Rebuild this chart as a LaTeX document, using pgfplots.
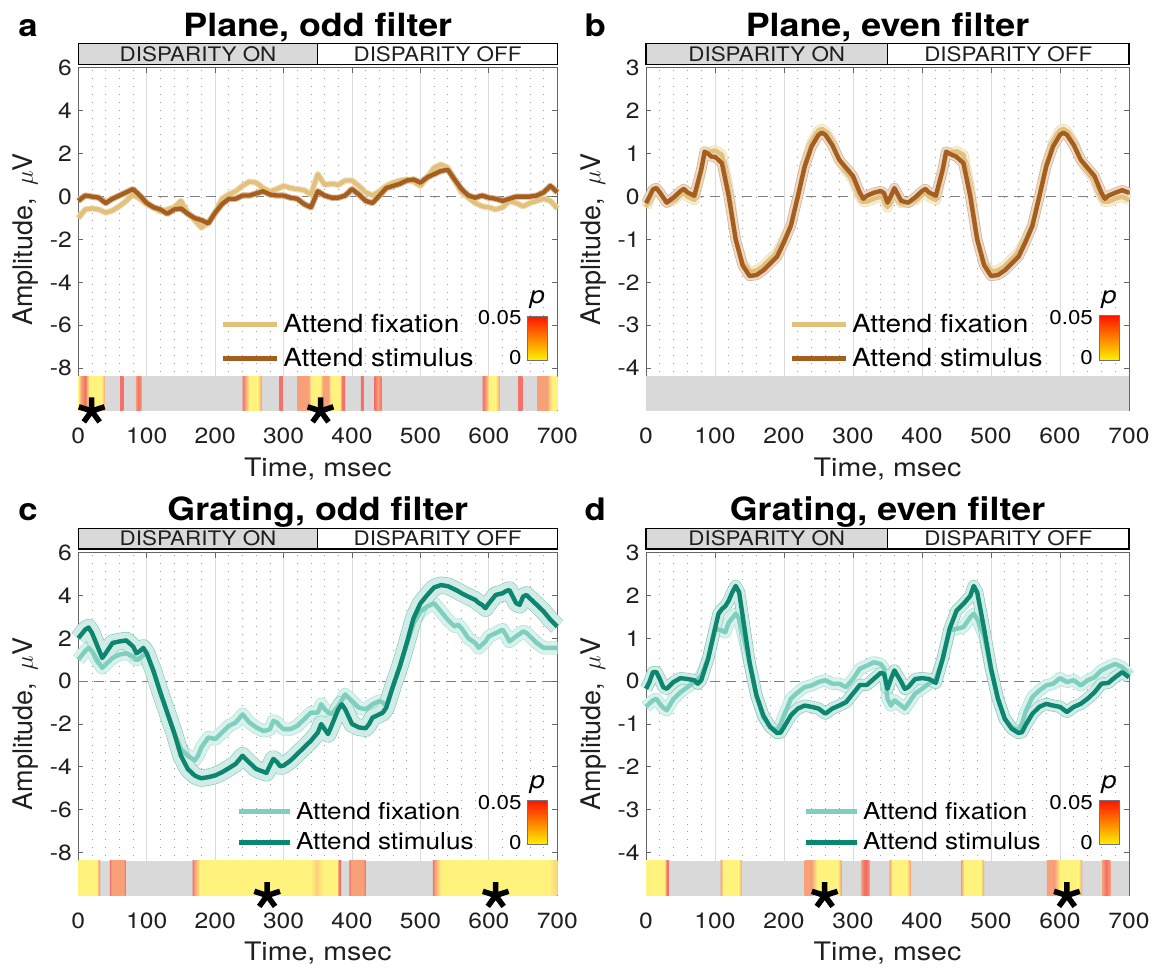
\documentclass[border=0pt]{standalone}
\usepackage{fontspec}
\setmainfont{TeX Gyre Heros}[FakeStretch=1.12]
\newfontfamily\plainheros{TeX Gyre Heros}
\usepackage{pgfplots}
\usepackage{pgfplotstable}
\pgfplotsset{compat=1.18}

\definecolor{fixP}{RGB}{226,193,125}
\definecolor{stimP}{RGB}{163,94,32}
\definecolor{fixPfill}{RGB}{247,236,212}
\definecolor{fixPedge}{RGB}{238,219,178}
\definecolor{stimPfill}{RGB}{236,218,200}
\definecolor{stimPedge}{RGB}{212,172,136}
\definecolor{fixG}{RGB}{128,206,190}
\definecolor{stimG}{RGB}{13,133,111}
\definecolor{fixGfill}{RGB}{218,242,237}
\definecolor{fixGedge}{RGB}{168,224,212}
\definecolor{stimGfill}{RGB}{208,236,230}
\definecolor{stimGedge}{RGB}{132,198,184}
\definecolor{stripgray}{RGB}{217,217,217}
\definecolor{sigR}{RGB}{244,112,104}
\definecolor{sigO}{RGB}{248,160,120}
\definecolor{sigY}{RGB}{255,243,125}
\colorlet{sigYO}{sigY!60!sigO}
\definecolor{cbR}{RGB}{255,20,0}
\definecolor{cbY}{RGB}{255,240,0}

\newcommand{\sg}[4]{\addplot[forget plot, draw=none, left color=#3, right color=#4] coordinates {(#1,\yb) (#2,\yb) (#2,\yt) (#1,\yt)} -- cycle;}

\pgfplotstableread{
x fix stim
0 -1.0 -0.2
10 -0.6 0.05
20 -0.55 0.0
30 -0.6 -0.05
40 -0.75 -0.3
50 -0.65 -0.1
60 -0.45 0.05
70 -0.2 0.2
80 0.1 0.35
90 -0.1 0.05
100 -0.35 -0.3
110 -0.5 -0.5
120 -0.7 -0.6
130 -0.6 -0.8
140 -0.5 -0.6
150 -0.2 -0.55
160 -0.75 -0.8
170 -1.1 -1.0
180 -1.45 -1.1
190 -1.2 -1.25
200 -0.75 -0.75
210 -0.1 -0.35
220 0.1 -0.1
230 0.25 -0.1
240 0.5 0.05
250 0.7 0.05
260 0.65 0.15
270 0.4 0.25
280 0.25 0.1
290 0.35 0.05
300 0.5 0.05
310 0.4 -0.05
320 0.35 -0.1
330 0.3 -0.35
340 0.1 -0.5
350 1.05 0.25
360 0.55 0.05
370 0.6 -0.05
380 0.55 -0.05
390 0.75 0.05
400 0.75 0.35
410 0.5 0.1
420 0.2 -0.2
430 0.05 -0.3
440 0.25 0.05
450 0.5 0.4
460 0.65 0.5
470 0.75 0.6
480 0.8 0.75
490 0.7 0.8
500 0.5 0.65
510 0.9 0.9
520 1.35 1.05
530 1.5 1.2
540 1.35 1.25
550 0.75 0.8
560 0.2 0.35
570 -0.05 0.05
580 -0.3 -0.05
590 -0.45 0.05
600 -0.5 -0.05
610 -0.6 -0.1
620 -0.5 -0.2
630 -0.2 -0.1
640 -0.3 0.0
650 -0.45 0.0
660 -0.3 0.0
670 -0.2 0.05
680 -0.1 0.2
690 -0.2 0.5
700 -0.55 0.2
}\dataA

\pgfplotstableread{
x fix stim
0 -0.25 -0.15
5 -0.05 0.0
10 0.15 0.17
15 0.2 0.2
20 0.08 0.1
30 -0.15 -0.14
40 -0.08 -0.02
50 0.05 0.13
55 0.1 0.18
60 0.0 0.1
70 -0.08 0.02
80 0.6 0.63
85 1.0 1.05
90 1.02 1.0
95 1.05 0.93
100 1.08 0.93
110 0.98 0.78
120 0.15 0.0
130 -1.0 -1.0
140 -1.55 -1.6
150 -1.75 -1.85
160 -1.72 -1.83
170 -1.62 -1.72
180 -1.45 -1.56
190 -1.3 -1.4
200 -1.0 -1.06
210 -0.65 -0.68
220 0.0 0.0
230 0.75 0.7
240 1.25 1.17
250 1.55 1.44
255 1.58 1.49
260 1.52 1.44
270 1.25 1.2
280 0.85 0.86
290 0.6 0.67
300 0.4 0.48
310 0.0 0.09
315 -0.12 -0.05
320 -0.12 0.02
330 -0.05 0.09
340 0.0 0.13
345 -0.05 0.08
350 -0.25 -0.14
355 -0.05 0.02
360 0.15 0.2
370 -0.15 -0.1
380 -0.15 -0.14
390 -0.08 -0.02
400 0.05 0.13
405 0.1 0.18
410 0.0 0.1
420 -0.08 0.02
430 0.6 0.63
435 1.0 1.05
440 1.02 1.0
450 1.06 0.93
460 0.98 0.78
470 0.15 0.0
480 -1.0 -1.0
490 -1.55 -1.6
500 -1.75 -1.85
510 -1.72 -1.83
520 -1.62 -1.72
530 -1.45 -1.56
540 -1.3 -1.4
550 -1.0 -1.06
560 -0.65 -0.68
570 0.0 0.0
580 0.75 0.7
590 1.25 1.17
600 1.55 1.44
605 1.58 1.49
610 1.52 1.44
620 1.25 1.2
630 0.85 0.86
640 0.6 0.67
650 0.4 0.48
660 0.0 0.09
665 -0.12 -0.05
670 -0.12 0.02
680 -0.05 0.09
690 0.0 0.15
700 -0.08 0.09
}\dataB

\pgfplotstableread{
x fix stim
0 1.0 2.0
10 1.4 2.4
15 1.55 2.5
20 1.4 2.25
30 0.85 1.47
35 0.62 1.08
40 0.77 1.3
50 1.08 1.78
60 1.24 1.85
70 1.3 1.9
80 1.16 1.62
85 1.0 1.3
90 1.08 1.4
95 1.2 1.55
100 1.3 1.3
110 0.46 0.46
120 -0.54 -0.54
130 -1.47 -1.47
140 -2.4 -2.4
150 -3.17 -3.48
160 -3.48 -4.1
170 -3.7 -4.4
175 -3.48 -4.48
180 -3.09 -4.53
190 -2.63 -4.48
200 -2.7 -4.4
210 -2.4 -4.25
220 -2.09 -4.06
230 -1.93 -3.86
240 -1.55 -3.48
250 -1.93 -3.8
260 -2.16 -4.1
270 -2.32 -4.22
275 -2.3 -4.28
280 -2.24 -3.94
285 -1.86 -3.63
290 -1.93 -3.76
295 -2.1 -3.97
300 -2.24 -3.94
310 -2.24 -3.71
320 -2.09 -3.4
330 -1.78 -3.09
340 -1.47 -2.78
350 -1.47 -2.4
355 -1.08 -2.0
360 -1.31 -2.24
365 -1.45 -2.47
370 -1.55 -2.09
380 -1.16 -1.31
385 -0.9 -1.08
390 -0.62 -1.31
400 -0.93 -2.0
410 -1.24 -2.16
420 -1.31 -2.2
425 -1.2 -2.0
430 -1.08 -1.7
440 -0.93 -1.55
445 -1.0 -1.47
450 -1.16 -1.24
460 -0.23 -0.23
470 0.7 0.7
480 1.7 1.78
490 2.7 2.94
500 3.25 3.63
510 3.48 4.02
520 3.63 4.37
530 3.25 4.48
540 2.86 4.43
550 2.55 4.28
555 2.63 4.2
560 2.47 4.1
570 2.0 3.94
580 1.78 3.79
585 1.55 3.65
590 1.7 3.56
595 1.85 3.4
600 2.09 3.63
610 2.24 4.02
620 2.4 4.1
625 2.16 4.2
630 1.85 4.25
640 2.09 3.63
645 2.2 3.56
650 2.32 3.94
655 2.25 4.02
660 2.09 3.86
670 1.78 3.56
680 1.55 3.25
690 1.55 2.86
700 1.55 2.55
}\dataC

\pgfplotstableread{
x fix stim
0 -0.6 -0.18
5 -0.52 -0.02
10 -0.45 0.21
15 -0.41 0.21
20 -0.53 0.05
25 -0.62 -0.14
30 -0.68 -0.18
40 -0.41 -0.02
50 -0.26 0.07
60 -0.14 0.05
70 -0.02 0.02
75 0.05 -0.06
80 0.13 0.02
90 0.52 0.52
100 1.22 1.22
105 1.2 1.57
110 1.18 1.68
115 1.14 1.75
120 1.37 1.88
125 1.47 2.07
130 1.57 2.22
135 1.45 2.07
140 1.14 1.53
150 0.44 0.44
160 -0.33 -0.33
170 -0.84 -0.8
180 -1.07 -1.07
190 -1.15 -1.21
195 -1.0 -1.2
200 -0.8 -1.07
210 -0.41 -0.8
220 -0.26 -0.64
230 -0.14 -0.57
240 -0.1 -0.6
250 -0.02 -0.64
260 0.02 -0.76
270 -0.06 -0.64
280 -0.06 -0.57
290 -0.14 -0.49
300 0.05 -0.29
310 0.29 -0.09
320 0.36 -0.09
330 0.44 0.05
340 0.4 0.19
345 0.3 0.17
350 -0.41 -0.18
355 -0.57 0.05
360 -0.45 0.25
370 -0.57 -0.02
375 -0.64 -0.18
380 -0.53 -0.14
390 -0.29 0.05
400 -0.18 0.07
410 -0.06 0.05
420 0.05 -0.04
430 0.52 0.52
440 1.18 1.22
450 1.22 1.64
460 1.26 1.8
470 1.49 1.99
475 1.57 2.22
480 1.45 2.07
490 1.06 1.22
500 0.29 0.29
510 -0.41 -0.41
520 -0.88 -0.88
530 -1.07 -1.11
540 -1.15 -1.21
545 -1.0 -1.19
550 -0.72 -1.03
560 -0.37 -0.76
570 -0.22 -0.6
580 -0.1 -0.53
590 -0.06 -0.57
600 0.07 -0.6
610 -0.02 -0.72
620 0.02 -0.6
630 -0.1 -0.53
640 0.02 -0.41
650 0.09 -0.26
660 0.25 -0.06
670 0.33 -0.04
680 0.4 0.09
690 0.33 0.21
700 0.13 0.09
}\dataD

\pgfplotsset{
  panel/.style={
    scale only axis, width=479pt, height=343pt,
    xmin=0, xmax=700, xtick={0,100,...,700}, minor x tick num=4,
    xmajorgrids, xminorgrids,
    major grid style={draw=black!14, line width=0.8pt},
    minor grid style={draw=black!38, line width=0.8pt, dash pattern=on 0.9pt off 7pt},
    axis line style={draw=black!60, line width=1pt},
    major tick style={draw=black!60, line width=1pt},
    major tick length=5pt, minor tick length=0pt,
    tick align=inside,
    /pgf/number format/assume math mode=true,
    ticklabel style={font=\fontsize{22}{22}\selectfont, text=black!88},
    xticklabel style={anchor=base, yshift=-33pt},
    yticklabel style={xshift=-3pt},
    clip=false,
    xlabel={Time, msec},
    ylabel={Amplitude, \,$\mu$V},
    xlabel style={at={(axis description cs:0.5,-0.19)}, anchor=base, font=\fontsize{25.5}{25.5}\selectfont, text=black!88},
    ylabel style={at={(axis description cs:-0.109,0.5)}, anchor=center, font=\plainheros\fontsize{27}{27}\selectfont, text=black!88},
    legend style={anchor=west, draw=none, fill=none, inner sep=0pt, row sep=14pt,
      font=\fontsize{25}{25}\selectfont, nodes={inner xsep=4pt, inner ysep=0pt}},
    legend cell align=left,
    legend image code/.code={\draw[#1, line width=5pt] (0pt,0pt) -- (54pt,0pt);},
    zeroline/.style={forget plot, draw=black!50, line width=0.9pt, dash pattern=on 10pt off 6pt},
    mainline/.style={line width=4.4pt, line join=round},
    band/.style={forget plot, line width=0.6pt, line join=round},
    star/.style={forget plot, only marks, mark=star, mark size=13.5pt, mark options={line width=5.5pt, draw=black}},
  },
  smalllegend/.style={
    legend style={row sep=12pt, font=\fontsize{23.3}{23.3}\selectfont},
    legend image code/.code={\draw[#1, line width=5pt] (0pt,0pt) -- (51pt,0pt);},
  }
}

\newcommand{\decor}[2]{%
  \draw[fill=stripgray, draw=black, line width=1.2pt] (rel axis cs:0,1.01) rectangle (rel axis cs:0.5,1.071);
  \draw[fill=white, draw=black, line width=1.2pt] (rel axis cs:0.5,1.01) rectangle (rel axis cs:1,1.071);
  \node[font=\fontsize{20}{20}\selectfont, text=black!88] at (rel axis cs:0.25,1.0405) {DISPARITY ON};
  \node[font=\fontsize{20}{20}\selectfont, text=black!88] at (rel axis cs:0.75,1.0405) {DISPARITY OFF};
  \node[font=\fontsize{32}{32}\selectfont\bfseries, anchor=base] at (rel axis cs:0.5,1.093) {#1};
  \node[font=\fontsize{31}{31}\selectfont\bfseries, anchor=base] at (rel axis cs:-0.105,1.093) {#2};
}

\begin{document}
\begin{tikzpicture}
\path (0pt,0pt) rectangle (1167pt,967pt);

% ---------- a ----------
\begin{axis}[panel, at={(78.3pt,556pt)}, anchor=south west, width=479pt,
  ymin=-10, ymax=6, ytick={-8,-6,...,6}, legend style={at={(0.296,0.203)}}]
\addplot[forget plot, fill=stripgray, draw=none] coordinates {(0,-10) (700,-10) (700,-8.37) (0,-8.37)} -- cycle;
\def\yb{-10}\def\yt{-8.37}
\sg{0}{4}{sigY}{sigO}
\sg{4}{10}{sigO}{sigR}
\sg{10}{16}{sigR}{sigY}
\sg{16}{34}{sigY}{sigY}
\sg{34}{39}{sigY}{sigO}
\sg{61}{66}{sigR}{sigR}
\sg{84}{88}{sigO}{sigR}
\sg{88}{92}{sigR}{sigO}
\sg{240}{244}{sigR}{sigO}
\sg{244}{250}{sigO}{sigY}
\sg{250}{262}{sigY}{sigY}
\sg{262}{268}{sigY}{sigO}
\sg{294}{299}{sigR}{sigR}
\sg{320}{336}{sigO}{sigO}
\sg{336}{341}{sigO}{sigY}
\sg{341}{353}{sigY}{sigY}
\sg{353}{358}{sigY}{sigO}
\sg{358}{365}{sigO}{sigO}
\sg{365}{369}{sigO}{sigY}
\sg{369}{382}{sigY}{sigY}
\sg{382}{386}{sigY}{sigR}
\sg{386}{390}{sigR}{sigR}
\sg{413}{417}{sigR}{sigR}
\sg{433}{438}{sigR}{sigO}
\sg{438}{443}{sigO}{sigR}
\sg{591}{596}{sigR}{sigO}
\sg{596}{600}{sigO}{sigY}
\sg{600}{610}{sigY}{sigY}
\sg{610}{616}{sigY}{sigO}
\sg{643}{649}{sigR}{sigR}
\sg{671}{685}{sigO}{sigO}
\sg{685}{692}{sigO}{sigY}
\sg{692}{700}{sigY}{sigY}
\addplot[zeroline] coordinates {(0,0) (700,0)};
\addplot[band, draw=fixPedge, double=fixPfill, double distance=5pt] table[x=x,y=fix]{\dataA};
\addplot[band, draw=stimPedge, double=stimPfill, double distance=5pt] table[x=x,y=stim]{\dataA};
\addplot[mainline, fixP] table[x=x,y=fix]{\dataA};
\addlegendentry{Attend fixation}
\addplot[mainline, stimP] table[x=x,y=stim]{\dataA};
\addlegendentry{Attend stimulus}
\addplot[star] coordinates {(19.6,-10) (354,-10)};
\addplot[forget plot, draw=black!55, line width=0.8pt, bottom color=cbY, top color=cbR] coordinates {(657,-7.62) (686,-7.62) (686,-5.57) (657,-5.57)} -- cycle;
\node[anchor=east, inner sep=0pt, font=\fontsize{20}{20}\selectfont] at (axis cs:648,-5.66) {0.05};
\node[anchor=east, inner sep=0pt, font=\fontsize{20}{20}\selectfont] at (axis cs:648,-7.52) {0};
\node[inner sep=0pt, font=\fontsize{24}{24}\selectfont\itshape] at (axis cs:671,-4.82) {p};
\decor{Plane, odd filter}{a}
\end{axis}

% ---------- b ----------
\begin{axis}[panel, at={(646pt,556pt)}, anchor=south west, width=483pt,
  ymin=-5, ymax=3, ytick={-4,-3,...,3}, legend style={at={(0.296,0.203)}}]
\addplot[forget plot, fill=stripgray, draw=none] coordinates {(0,-5) (700,-5) (700,-4.185) (0,-4.185)} -- cycle;
\addplot[zeroline] coordinates {(0,0) (700,0)};
\addplot[band, draw=fixPedge, double=fixPfill, double distance=9pt] table[x=x,y=fix]{\dataB};
\addplot[band, draw=stimPedge, double=stimPfill, double distance=9pt] table[x=x,y=stim]{\dataB};
\addplot[mainline, fixP] table[x=x,y=fix]{\dataB};
\addlegendentry{Attend fixation}
\addplot[mainline, stimP] table[x=x,y=stim]{\dataB};
\addlegendentry{Attend stimulus}
\addplot[forget plot, draw=black!55, line width=0.8pt, bottom color=cbY, top color=cbR] coordinates {(657,-3.81) (686,-3.81) (686,-2.78) (657,-2.78)} -- cycle;
\node[anchor=east, inner sep=0pt, font=\fontsize{20}{20}\selectfont] at (axis cs:648,-2.83) {0.05};
\node[anchor=east, inner sep=0pt, font=\fontsize{20}{20}\selectfont] at (axis cs:648,-3.76) {0};
\node[inner sep=0pt, font=\fontsize{24}{24}\selectfont\itshape] at (axis cs:671,-2.41) {p};
\decor{Plane, even filter}{b}
\end{axis}

% ---------- c ----------
\begin{axis}[panel, smalllegend, at={(78.3pt,71.5pt)}, anchor=south west, width=479pt,
  ymin=-10, ymax=6, ytick={-8,-6,...,6}, legend style={at={(0.329,0.2)}}]
\addplot[forget plot, fill=stripgray, draw=none] coordinates {(0,-10) (700,-10) (700,-8.37) (0,-8.37)} -- cycle;
\def\yb{-10}\def\yt{-8.37}
\sg{0}{27}{sigY}{sigY}
\sg{27}{32}{sigY}{sigR}
\sg{46}{49}{sigR}{sigO}
\sg{49}{66}{sigO}{sigO}
\sg{66}{69}{sigO}{sigR}
\sg{167}{170}{sigR}{sigO}
\sg{170}{178}{sigO}{sigY}
\sg{178}{340}{sigY}{sigY}
\sg{340}{348}{sigY}{sigYO}
\sg{348}{358}{sigYO}{sigY}
\sg{358}{378}{sigY}{sigY}
\sg{378}{381}{sigY}{sigR}
\sg{381}{384}{sigR}{sigR}
\sg{396}{399}{sigR}{sigO}
\sg{399}{416}{sigO}{sigO}
\sg{416}{420}{sigO}{sigR}
\sg{518}{521}{sigR}{sigO}
\sg{521}{530}{sigO}{sigY}
\sg{530}{688}{sigY}{sigY}
\sg{688}{700}{sigY}{sigYO}
\addplot[zeroline] coordinates {(0,0) (700,0)};
\addplot[band, draw=fixGedge, double=fixGfill, double distance=12pt] table[x=x,y=fix]{\dataC};
\addplot[band, draw=stimGedge, double=stimGfill, double distance=16pt] table[x=x,y=stim]{\dataC};
\addplot[mainline, fixG] table[x=x,y=fix]{\dataC};
\addlegendentry{Attend fixation}
\addplot[mainline, stimG] table[x=x,y=stim]{\dataC};
\addlegendentry{Attend stimulus}
\addplot[star] coordinates {(276,-10) (610,-10)};
\addplot[forget plot, draw=black!55, line width=0.8pt, bottom color=cbY, top color=cbR] coordinates {(657,-7.62) (686,-7.62) (686,-5.57) (657,-5.57)} -- cycle;
\node[anchor=east, inner sep=0pt, font=\fontsize{20}{20}\selectfont] at (axis cs:648,-5.66) {0.05};
\node[anchor=east, inner sep=0pt, font=\fontsize{20}{20}\selectfont] at (axis cs:648,-7.52) {0};
\node[inner sep=0pt, font=\fontsize{24}{24}\selectfont\itshape] at (axis cs:671,-4.82) {p};
\decor{Grating, odd filter}{c}
\end{axis}

% ---------- d ----------
\begin{axis}[panel, smalllegend, at={(646pt,71.5pt)}, anchor=south west, width=483pt,
  ymin=-5, ymax=3, ytick={-4,-3,...,3}, legend style={at={(0.325,0.2)}}]
\addplot[forget plot, fill=stripgray, draw=none] coordinates {(0,-5) (700,-5) (700,-4.185) (0,-4.185)} -- cycle;
\def\yb{-5}\def\yt{-4.185}
\sg{0}{26}{sigY}{sigY}
\sg{26}{30}{sigY}{sigO}
\sg{30}{33}{sigR}{sigR}
\sg{108}{112}{sigO}{sigY}
\sg{112}{134}{sigY}{sigY}
\sg{134}{139}{sigY}{sigO}
\sg{230}{240}{sigO}{sigO}
\sg{240}{248}{sigO}{sigY}
\sg{248}{278}{sigY}{sigY}
\sg{278}{283}{sigY}{sigO}
\sg{312}{316}{sigO}{sigR}
\sg{316}{320}{sigR}{sigR}
\sg{320}{324}{sigR}{sigO}
\sg{353}{357}{sigO}{sigY}
\sg{357}{378}{sigY}{sigY}
\sg{378}{383}{sigY}{sigO}
\sg{457}{461}{sigO}{sigY}
\sg{461}{485}{sigY}{sigY}
\sg{485}{490}{sigY}{sigO}
\sg{581}{592}{sigO}{sigO}
\sg{592}{600}{sigO}{sigY}
\sg{600}{627}{sigY}{sigY}
\sg{627}{632}{sigY}{sigO}
\sg{661}{667}{sigO}{sigR}
\sg{667}{673}{sigR}{sigO}
\addplot[zeroline] coordinates {(0,0) (700,0)};
\addplot[band, draw=fixGedge, double=fixGfill, double distance=11pt] table[x=x,y=fix]{\dataD};
\addplot[band, draw=stimGedge, double=stimGfill, double distance=11pt] table[x=x,y=stim]{\dataD};
\addplot[mainline, fixG] table[x=x,y=fix]{\dataD};
\addlegendentry{Attend fixation}
\addplot[mainline, stimG] table[x=x,y=stim]{\dataD};
\addlegendentry{Attend stimulus}
\addplot[star] coordinates {(259,-5) (610,-5)};
\addplot[forget plot, draw=black!55, line width=0.8pt, bottom color=cbY, top color=cbR] coordinates {(657,-3.81) (686,-3.81) (686,-2.78) (657,-2.78)} -- cycle;
\node[anchor=east, inner sep=0pt, font=\fontsize{20}{20}\selectfont] at (axis cs:648,-2.83) {0.05};
\node[anchor=east, inner sep=0pt, font=\fontsize{20}{20}\selectfont] at (axis cs:648,-3.76) {0};
\node[inner sep=0pt, font=\fontsize{24}{24}\selectfont\itshape] at (axis cs:671,-2.41) {p};
\decor{Grating, even filter}{d}
\end{axis}
\end{tikzpicture}
\end{document}
